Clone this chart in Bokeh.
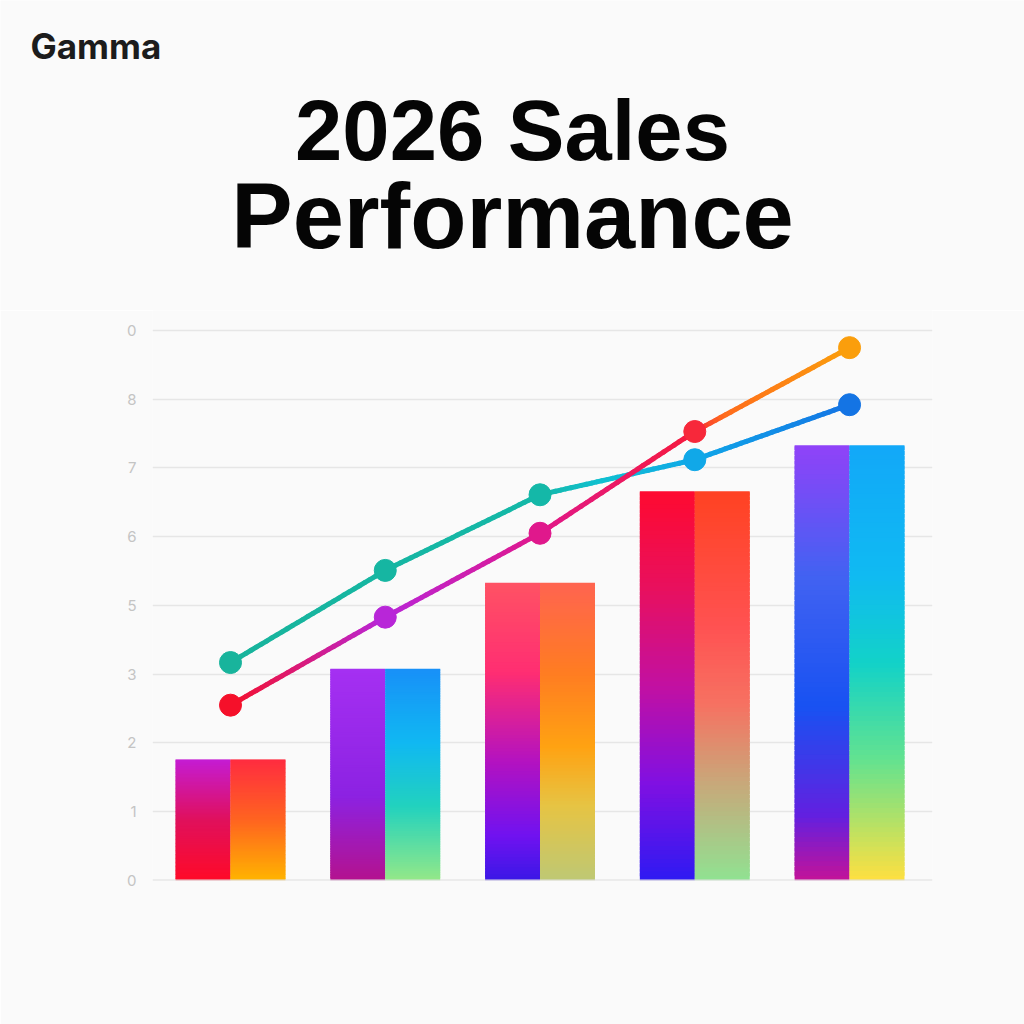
import numpy as np
from bokeh.plotting import figure
from bokeh.layouts import column
from bokeh.models import Range1d, FixedTicker
from bokeh.core.properties import value
from bokeh.embed import file_html
from bokeh.resources import INLINE

# ---------------- data ----------------
groups = [0, 1, 2, 3, 4]
bar_values = [1.76, 3.08, 4.33, 5.66, 6.33]
line_a = [3.17, 4.51, 5.61, 6.12, 6.92]
line_b = [2.55, 3.83, 5.05, 6.53, 7.75]
y_ticks = [0, 1, 2, 3, 4, 5, 6, 7, 8]
y_tick_labels = ["0", "1", "2", "3", "5", "6", "7", "8", "0"]
title_lines = ["2026 Sales", "Performance"]
brand = "Gamma"

# ---------------- styles ----------------
# gradient stops (position from top 0 -> bottom 1, colour)
left_grad = [
    [(0, "#c41cd4"), (0.5, "#e0105c"), (1, "#ff0a28")],
    [(0, "#a530f2"), (0.6, "#8c22e2"), (1, "#b4128e")],
    [(0, "#ff5264"), (0.3, "#ff2e72"), (0.6, "#b412c0"), (0.85, "#7012f0"), (1, "#3a18e6")],
    [(0, "#ff0a30"), (0.25, "#e8105e"), (0.5, "#c210a2"), (0.75, "#8010e2"), (1, "#2e1af2")],
    [(0, "#9042f8"), (0.3, "#4262f2"), (0.6, "#1852f2"), (0.85, "#6220e0"), (1, "#c41298")],
]
right_grad = [
    [(0, "#ff2c40"), (0.5, "#ff6420"), (1, "#ffb400")],
    [(0, "#1890f8"), (0.35, "#10b8f2"), (0.65, "#22d2be"), (1, "#94e888")],
    [(0, "#ff6450"), (0.3, "#ff7c22"), (0.55, "#ffa212"), (0.75, "#e6c444"), (1, "#bec874")],
    [(0, "#ff4222"), (0.35, "#ff5252"), (0.55, "#f67262"), (0.75, "#c8a87a"), (1, "#90e292")],
    [(0, "#12a8f8"), (0.3, "#10baf2"), (0.5, "#12d2c8"), (0.72, "#62e290"), (1, "#ffe040")],
]
line_a_grad = [(0, "#18b49c"), (0.5, "#14b8a8"), (0.6, "#10c0d0"), (0.75, "#10a8e8"), (1, "#1474e4")]
line_b_grad = [(0, "#f5102a"), (0.25, "#b826d8"), (0.5, "#e0188c"), (0.74, "#f51a40"), (0.8, "#ff6c1c"), (1, "#fa9e0c")]
half_w = 0.355
BG = "#fafafa"


def hex2rgb(h):
    h = h.lstrip("#")
    return np.array([int(h[i:i + 2], 16) for i in (0, 2, 4)], dtype=float)


def interp(stops, t):
    for (p0, c0), (p1, c1) in zip(stops[:-1], stops[1:]):
        if t <= p1:
            f = 0 if p1 == p0 else (t - p0) / (p1 - p0)
            c = hex2rgb(c0) * (1 - f) + hex2rgb(c1) * f
            return "#%02x%02x%02x" % tuple(int(round(v)) for v in c)
    return stops[-1][1]


# ---------------- header (brand + title) ----------------
h = figure(width=1024, height=310, output_backend="svg", toolbar_location=None,
           x_range=Range1d(0, 1024), y_range=Range1d(0, 310), min_border=0)
h.frame_align = False
h.title.visible = False
h.axis.visible = False
h.grid.visible = False
h.outline_line_color = None
h.border_fill_color = BG
h.background_fill_color = BG
h.text(x=[30], y=[265], text=[brand], text_font=value("Inter"), text_font_style="bold",
       text_font_size="35px", text_color="#1c1c1c", text_baseline="alphabetic")
h.text(x=[512], y=[180], text=[title_lines[0]], text_font=value("Liberation Sans"),
       text_font_style="bold", text_font_size="85px", text_color="#050505",
       text_align="center", text_baseline="alphabetic")
h.text(x=[512], y=[95], text=[title_lines[1]], text_font=value("Liberation Sans"),
       text_font_style="bold", text_font_size="92px", text_color="#050505",
       text_align="center", text_baseline="alphabetic")

# ---------------- chart ----------------
p = figure(width=1024, height=714, output_backend="svg", toolbar_location=None,
           x_range=Range1d(-0.504, 4.536), y_range=Range1d(0, 8.29),
           min_border_left=152, min_border_right=92, min_border_top=0,
           min_border_bottom=144)
p.frame_align = False
p.title.visible = False
p.border_fill_color = BG
p.background_fill_color = BG
p.outline_line_color = None
p.xaxis.visible = False
p.xgrid.visible = False
p.ygrid.grid_line_color = "#e6e6e6"
p.ygrid.grid_line_width = 1.5
p.yaxis.ticker = FixedTicker(ticks=y_ticks)
p.yaxis.major_label_overrides = {t: l for t, l in zip(y_ticks, y_tick_labels)}
p.yaxis.axis_line_color = None
p.yaxis.major_tick_line_color = None
p.yaxis.minor_tick_line_color = None
p.yaxis.major_label_text_color = "#c4c4c4"
p.yaxis.major_label_text_font = "Inter"
p.yaxis.major_label_text_font_size = "15px"
p.yaxis.major_label_standoff = 10

# gradient bars, each half built from thin slices
N = 90
L, R, B, T, C = [], [], [], [], []
for g, v, lg, rg in zip(groups, bar_values, left_grad, right_grad):
    for side, grad in ((-1, lg), (1, rg)):
        x0, x1 = (g - half_w, g) if side < 0 else (g, g + half_w)
        for i in range(N):
            L.append(x0)
            R.append(x1)
            B.append(v * i / N)
            T.append(min(v, v * (i + 1.8) / N))
            C.append(interp(grad, 1 - (i + 0.5) / N))
p.quad(left=L, right=R, bottom=B, top=T, fill_color=C, line_color=None)
p.line([-0.504, 4.536], [0, 0], line_color="#dedede", line_width=2)


# gradient lines
def grad_line(vals, stops):
    M = 30
    xs0, ys0, xs1, ys1, cols = [], [], [], [], []
    n = len(vals) - 1
    for k in range(n):
        for j in range(M):
            a, b = j / M, (j + 1) / M
            xs0.append(groups[k] + a)
            xs1.append(groups[k] + b)
            ys0.append(vals[k] + (vals[k + 1] - vals[k]) * a)
            ys1.append(vals[k] + (vals[k + 1] - vals[k]) * b)
            cols.append(interp(stops, (k + (a + b) / 2) / n))
    p.segment(xs0, ys0, xs1, ys1, line_color=cols, line_width=5, line_cap="round")
    mc = [interp(stops, k / n) for k in range(n + 1)]
    p.scatter(groups, vals, size=22, fill_color=mc, line_color=mc)


grad_line(line_a, line_a_grad)
grad_line(line_b, line_b_grad)

layout = column(h, p, spacing=0)
open("out.html", "w").write(file_html(layout, INLINE))
